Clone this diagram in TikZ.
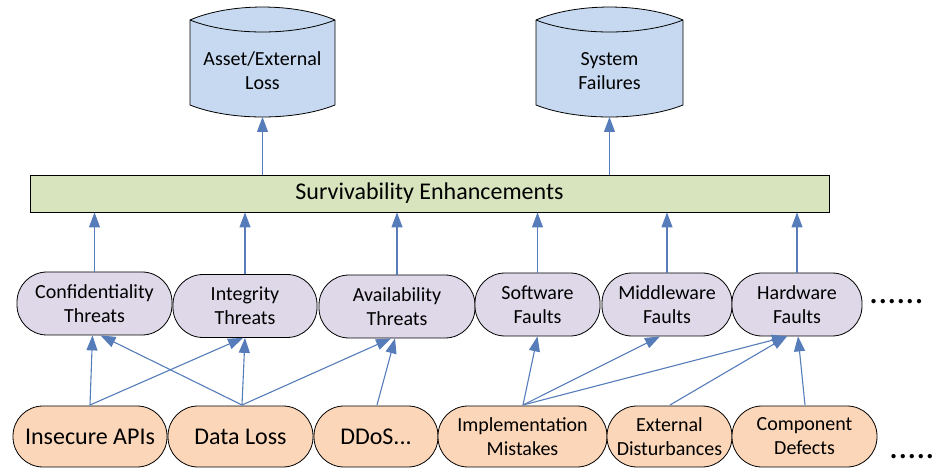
\documentclass[tikz,border=0pt]{standalone}
\usepackage{fontspec}
\setmainfont{Carlito}
\usetikzlibrary{arrows.meta}
\definecolor{cylfill}{RGB}{198,217,240}
\definecolor{barfill}{RGB}{215,228,189}
\definecolor{midfill}{RGB}{222,216,232}
\definecolor{botfill}{RGB}{251,214,184}
\definecolor{arrcol}{RGB}{86,124,186}
\tikzset{
  midnode/.style={draw=black, line width=0.8pt, fill=midfill, rounded corners=30pt,
    minimum height=63pt, inner sep=0pt, align=center,
    font=\fontsize{20}{24}\selectfont},
  botnode/.style={draw=black, line width=0.8pt, fill=botfill, rounded corners=30pt,
    minimum height=61pt, inner sep=0pt, align=center,
    font=\fontsize{20}{24}\selectfont},
  bigtext/.style={font=\fontsize{24}{28}\selectfont},
  cyl/.style={draw=black, line width=0.8pt, fill=cylfill},
  conn/.style={draw=arrcol, line width=1.1pt, -{Triangle[length=15pt,width=11pt]}},
  dots/.style={inner sep=0pt, font=\fontsize{36}{36}\selectfont}
}
\begin{document}
\begin{tikzpicture}[x=1pt,y=-1pt]
\useasboundingbox (0,0) rectangle (940,470);
% cylinders
\path[cyl] (190,20) .. controls (230,2.7) and (295,2.7) .. (335,20) -- (335,105)
  .. controls (295,121) and (230,121) .. (190,105) -- cycle;
\draw[line width=0.8pt] (190,20) .. controls (230,36) and (295,36) .. (335,20);
\node[align=center, font=\fontsize{20}{24}\selectfont] (asset) at (262.5,71) {Asset/External\\Loss};
\coordinate (assetB) at (262.5,117);
\path[cyl] (536,20) .. controls (576,2.7) and (643,2.7) .. (683,20) -- (683,105)
  .. controls (643,121) and (576,121) .. (536,105) -- cycle;
\draw[line width=0.8pt] (536,20) .. controls (576,36) and (643,36) .. (683,20);
\node[align=center, font=\fontsize{20}{24}\selectfont] (sys) at (609.5,71) {System\\Failures};
\coordinate (sysB) at (609.5,117);
% bar
\node[draw=black, line width=0.8pt, fill=barfill, minimum width=799pt, minimum height=37pt,
  inner sep=0pt, bigtext] (bar) at (429.5,193.5) {\raisebox{-2pt}{Survivability Enhancements}};
% middle row
\node[midnode, minimum width=155pt] (conf) at (94.5,303.5) {Confidentiality\\Threats};
\node[midnode, minimum width=144pt] (integ) at (245,306) {Integrity\\Threats};
\node[midnode, minimum width=156pt] (avail) at (397,306.5) {Availability\\Threats};
\node[midnode, minimum width=125pt] (soft) at (537.5,304.5) {Software\\Faults};
\node[midnode, minimum width=130pt] (midw) at (667,304.5) {Middleware\\Faults};
\node[midnode, minimum width=130pt] (hard) at (797,304.5) {Hardware\\Faults};
\node[dots, anchor=west] (dots1) at (869,302) {......};
% bottom row
\node[botnode, minimum width=154pt, bigtext] (insec) at (90,436.5) {Insecure APIs};
\node[botnode, minimum width=145pt, bigtext] (dloss) at (240.5,436.5) {Data Loss};
\node[botnode, minimum width=124pt, bigtext] (ddos) at (376,436.5) {DDoS...};
\node[botnode, minimum width=169pt] (impl) at (522.5,436.5) {Implementation\\Mistakes};
\node[botnode, minimum width=125pt] (ext) at (669.5,436.5) {External\\Disturbances};
\node[botnode, minimum width=145pt] (comp) at (804.5,436.5) {Component\\Defects};
\node[dots, anchor=west] (dots2) at (889,457) {.....};
% connectors to cylinders
\draw[conn] (bar.north -| assetB) -- (assetB);
\draw[conn] (bar.north -| sysB) -- (sysB);
% connectors middle to bar
\foreach \n in {conf,integ,avail,soft,midw,hard}
  \draw[conn] (\n.north) -- (\n.north |- bar.south);
% bottom to middle
\coordinate (insT) at (90,405);
\coordinate (dlT) at (242,405);
\coordinate (ddT) at (377,405);
\coordinate (imT) at (523,405);
\coordinate (exT) at (670,405);
\coordinate (coT) at (805,405);
\draw[conn] (insT) -- ([xshift=-2pt]conf.south);
\draw[conn] (insT) -- ([xshift=-2pt]integ.south);
\draw[conn] (dlT) -- ([xshift=6pt]conf.south);
\draw[conn] (dlT) -- (integ.south);
\draw[conn] (dlT) -- ([xshift=-6pt]avail.south);
\draw[conn] (ddT) -- ([xshift=-2pt]avail.south);
\draw[conn] (imT) -- (soft.south);
\draw[conn] (imT) -- ([xshift=-7pt]midw.south);
\draw[conn] (imT) -- ([xshift=-10pt]hard.south);
\draw[conn] (exT) -- ([xshift=-10pt]hard.south);
\draw[conn] (coT) -- ([xshift=1pt]hard.south);
\end{tikzpicture}
\end{document}
